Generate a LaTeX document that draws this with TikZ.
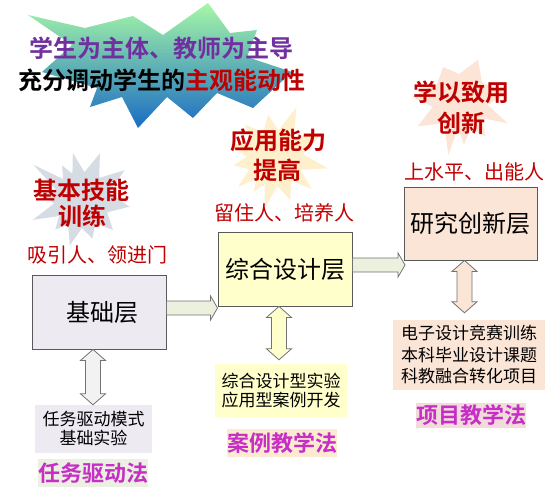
\documentclass[tikz,border=0pt]{standalone}
\usepackage{fontspec}
\setmainfont{Noto Sans CJK SC}[BoldFont={Noto Sans CJK SC Bold}]
\usetikzlibrary{calc}
\definecolor{tpurple}{HTML}{7030A0}
\definecolor{tred}{HTML}{C00000}
\definecolor{tmag}{HTML}{C62EC6}
\definecolor{bordergray}{HTML}{595959}
\definecolor{lav}{HTML}{EDEAF2}
\definecolor{ylw}{HTML}{FFFFCC}
\definecolor{pch}{HTML}{FBE5D6}
\definecolor{agreen}{HTML}{EBF1DE}
\definecolor{agray}{HTML}{F2F2F2}
\definecolor{sgray}{HTML}{D6DCE4}
\definecolor{scream}{HTML}{FEF0CC}
\definecolor{speach}{HTML}{FCE4D6}
\definecolor{lgreen}{HTML}{ECF0E2}
\definecolor{lpink}{HTML}{F2DCDB}
\definecolor{lpeach}{HTML}{FCEBD0}
\definecolor{sgtop}{HTML}{A6F7A6}
\definecolor{sgmid}{HTML}{62C8B0}
\definecolor{sgbot}{HTML}{1A6CC4}

\tikzset{
  layer/.style={draw=bordergray, line width=0.9pt, inner sep=0pt,
    font=\fontsize{24}{26}\selectfont},
  title/.style={font=\fontsize{24}{26}\selectfont\bfseries, text=tred, inner sep=0pt},
  headline/.style={font=\fontsize{24}{26}\selectfont\bfseries, inner sep=0pt},
  redlab/.style={font=\fontsize{20}{22}\selectfont, text=tred, inner sep=0pt},
  detail/.style={font=\fontsize{17}{19}\selectfont, align=center, inner sep=0pt},
  method/.style={font=\fontsize{22}{24}\selectfont\bfseries, text=tmag, inner sep=0pt},
  blockarrow/.style={draw=bordergray!85, line width=0.8pt, line join=miter},
}

\newcommand\vdarrow[3]{%
  \draw[blockarrow, fill=#3] (#1) -- ($(#1)+(12.5,11)$) -- ($(#1)+(7.5,11)$)
    -- ($(#2)+(7.5,-11)$) -- ($(#2)+(12.5,-11)$) -- (#2) -- ($(#2)+(-12.5,-11)$)
    -- ($(#2)+(-7.5,-11)$) -- ($(#1)+(-7.5,11)$) -- ($(#1)+(-12.5,11)$) -- cycle;}
\newcommand\hsarrow[3]{%
  \draw[blockarrow, fill=#3] ($(#1)+(0,-7)$) -- ($(#2)+(-7,-7)$) -- ($(#2)+(-7,-12)$)
    -- (#2) -- ($(#2)+(-7,12)$) -- ($(#2)+(-7,7)$) -- ($(#1)+(0,7)$) -- cycle;}

\begin{document}
\begin{tikzpicture}[x=1pt,y=-1pt]
\useasboundingbox (0,0) rectangle (560,495);

% big starburst
\shade[top color=sgtop, middle color=sgmid, bottom color=sgbot]
  (28,15) -- (85,28) -- (133,16) -- (163,35) -- (208,3) -- (230,33) -- (257,30)
  -- (247,57) -- (292,72) -- (253,108) -- (217,93) -- (193,118) -- (167,97)
  -- (138,128) -- (122,97) -- (90,107) -- (97,88) -- (42,72) -- (72,45) -- cycle;

% small starbursts
\fill[sgray, shift={(82,200)}]
  (8:48) -- (26:28) -- (44:43) -- (60:27) -- (75:40) -- (90:28) -- (105:47) -- (120:28)
  -- (132:40) -- (145:28) -- (158:53) -- (173:28) -- (188:42) -- (202:28) -- (216:60)
  -- (228:28) -- (240:40) -- (250:28) -- (259:48) -- (275:28) -- (291:50) -- (308:28)
  -- (325:52) -- (345:28) -- cycle;
\fill[scream, shift={(275,158)}]
  (11:54) -- (25:28) -- (40:48) -- (55:28) -- (70:45) -- (86:28) -- (101:51) -- (112:28)
  -- (122:40) -- (132:28) -- (142:47) -- (156:28) -- (170:42) -- (183:28) -- (196:47)
  -- (212:28) -- (228:45) -- (245:28) -- (261:44) -- (277:28) -- (293:55) -- (312:28)
  -- (332:54) -- (352:28) -- cycle;
\fill[speach, shift={(460,100)}]
  (26:53) -- (40:28) -- (55:45) -- (69:30) -- (85:45) -- (94:28) -- (102:56) -- (125:28)
  -- (148:50) -- (166:28) -- (184:48) -- (214:28) -- (243:37) -- (268:26) -- (294:44)
  -- (322:28) -- (352:48) -- (10:28) -- cycle;

% headline
\node[headline, text=tpurple] (h1) at (162,48) {学生为主体、教师为主导};
\node[headline] (h2) at (162,80) {充分调动学生的\textcolor{tred}{主观能动性}};

% star titles
\node[title] (s1a) at (82,190) {基本技能};
\node[title] (s1b) at (82,216) {训练};
\node[title] (s2a) at (278,140) {应用能力};
\node[title] (s2b) at (277,170) {提高};
\node[title] (s3a) at (461,92) {学以致用};
\node[title] (s3b) at (461,123) {创新};

% red labels
\node[redlab] (r1) at (97.5,255) {吸引人、领进门};
\node[redlab] (r2) at (284,213) {留住人、培养人};
\node[redlab] (r3) at (474,172) {上水平、出能人};

% layer boxes
\node[layer, fill=lav, minimum width=134pt, minimum height=74pt] (b1) at (99,312) {\hspace{6pt}基础层};
\node[layer, fill=ylw, minimum width=134pt, minimum height=74pt] (b2) at (285,269) {综合设计层};
\node[layer, fill=pch, minimum width=133pt, minimum height=73pt] (b3) at (470.5,223.5) {研究创新层};

% detail boxes
\node[detail, fill=lav, minimum width=117pt, minimum height=48pt] (t1) at (93.5,429) {任务驱动模式\\基础实验};
\node[detail, fill=ylw, minimum width=132pt, minimum height=53pt] (t2) at (281,390.5) {综合设计型实验\\应用型案例开发};
\node[detail, fill=pch, minimum width=152pt, minimum height=70pt,
  font=\fontsize{17}{21.5}\selectfont] (t3) at (469,355) {电子设计竞赛训练\\本科毕业设计课题\\科教融合转化项目};

% method labels
\node[method, fill=lgreen, minimum width=108pt, minimum height=28pt] (m1) at (93,473) {任务驱动法};
\node[method, fill=lpeach, minimum width=109pt, minimum height=28pt] (m2) at (282,443) {案例教学法};
\node[method, fill=lpink, minimum width=107pt, minimum height=25pt] (m3) at (471,415) {项目教学法};

% horizontal arrows
\coordinate (a1s) at (b1.east |- 0,308);
\coordinate (a1e) at (b2.west |- 0,308);
\hsarrow{a1s}{a1e}{agreen}
\coordinate (a2s) at (b2.east |- 0,265);
\coordinate (a2e) at ($(b3.west |- 0,265)+(1.5,0)$);
\hsarrow{a2s}{a2e}{agreen}

% vertical double arrows
\coordinate (v1t) at (b1.south -| 93,0);
\coordinate (v1b) at (t1.north -| 93,0);
\vdarrow{v1t}{v1b}{agray}
\coordinate (v2t) at (b2.south -| 279,0);
\coordinate (v2b) at ($(t2.north -| 279,0)+(0,-4)$);
\vdarrow{v2t}{v2b}{ylw}
\coordinate (v3t) at (b3.south -| 464.5,0);
\coordinate (v3b) at ($(t3.north -| 464.5,0)+(0,-7)$);
\vdarrow{v3t}{v3b}{pch}
\end{tikzpicture}
\end{document}
